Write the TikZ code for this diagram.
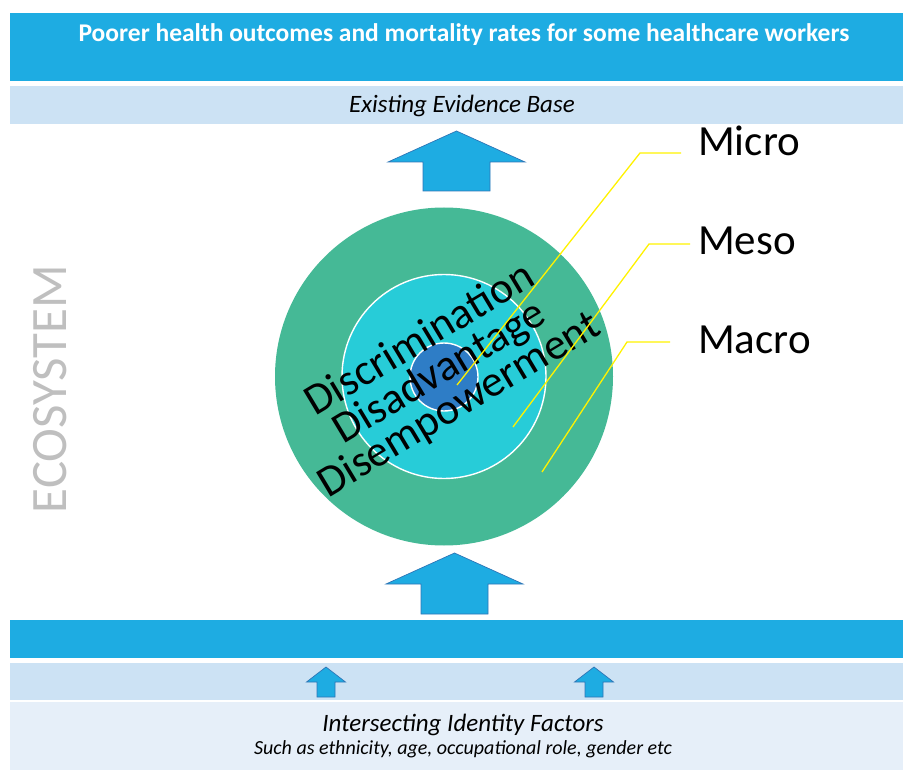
\documentclass[tikz,border=0pt]{standalone}
\usepackage{fontspec}
\setmainfont{Carlito}
\usetikzlibrary{positioning}
\definecolor{bandblue}{HTML}{1EACE2}
\definecolor{bandlight}{HTML}{CCE2F4}
\definecolor{bandpale}{HTML}{E6EFF9}
\definecolor{arrowedge}{HTML}{2E75B6}
\definecolor{macrogreen}{HTML}{45B996}
\definecolor{mesocyan}{HTML}{27CCD8}
\definecolor{microblue}{HTML}{2E7DC6}
\definecolor{ecogray}{HTML}{BFBFBF}
\tikzset{
    %Define style for the horizontal bands
    band/.style={
           rectangle,
           draw=none,
           inner sep=0pt,
           anchor=north west,
           minimum width=893pt},
    bandtext/.style={
           anchor=base,
           inner sep=0pt,
           font=\itshape\fontsize{25}{30}\selectfont},
    % Define style for the nested circles
    ring/.style={
           circle,
           inner sep=0pt,
           draw=white,
           line width=1.4pt},
    levellabel/.style={
           anchor=base west,
           inner sep=0pt,
           font=\fontsize{43}{50}\selectfont},
    % Define style for block arrows and leader lines
    blockarrow/.style={
           fill=bandblue,
           draw=arrowedge,
           line width=0.7pt,
           line join=miter},
    leader/.style={
           draw=yellow,
           line width=1.3pt},
}
\begin{document}
\begin{tikzpicture}[x=1pt,y=-1pt]
  \useasboundingbox (0,0) rectangle (903,770);
  % bands
  \node[band, fill=bandblue, minimum height=68pt] (outcomes) at (10,13) {};
  \node[band, fill=bandlight, minimum height=38pt] (evidence) at (10,86) {};
  \node[band, fill=bandblue, minimum height=38pt] (ecoband) at (10,620) {};
  \node[band, fill=bandlight, minimum height=37pt] (arrowband) at (10,663) {};
  \node[band, fill=bandpale, minimum height=68pt] (factors) at (10,702) {};
  \node[bandtext, font=\bfseries\fontsize{25.5}{30}\selectfont, text=white] (outtext) at (464,42)
      {Poorer health outcomes and mortality rates for some healthcare workers};
  \node[bandtext] (evtext) at (462,113) {Existing Evidence Base};
  \node[bandtext] (idtext) at (463,731) {Intersecting Identity Factors};
  \node[bandtext, font=\itshape\fontsize{20}{24}\selectfont] (suchtext) at (463,754)
      {Such as ethnicity, age, occupational role, gender etc};
  \node[rotate=90, text=ecogray, font=\fontsize{51}{60}\selectfont] (eco) at (50,389) {ECOSYSTEM};
  % circles
  \node[circle, fill=macrogreen, minimum size=338pt, inner sep=0pt] (macro) at (444,376.5) {};
  \node[ring, fill=mesocyan, minimum size=204pt] (meso) at (444,376.5) {};
  \node[ring, fill=microblue, minimum size=68pt] (micro) at (444,377) {};
  \node[rotate=31, align=center, inner sep=0pt, font=\fontsize{44}{38}\selectfont] (dtext) at (440,373)
      {Discrimination\\Disadvantage\\Disempowerment};
  % labels
  \node[levellabel] (microlbl) at (698,156) {Micro};
  \node[levellabel] (mesolbl) at (698,255) {Meso};
  \node[levellabel] (macrolbl) at (698,353) {Macro};
  \coordinate (micropt) at (457,385);  \coordinate (microknee) at (640,153); \coordinate (microend) at (681,153);
  \coordinate (mesopt) at (513,427);   \coordinate (mesoknee) at (649,244);  \coordinate (mesoend) at (690,244);
  \coordinate (macropt) at (542,472);  \coordinate (macroknee) at (627,342); \coordinate (macroend) at (670,342);
  \draw[leader] (micropt) -- (microknee) -- (microend);
  \draw[leader] (mesopt) -- (mesoknee) -- (mesoend);
  \draw[leader] (macropt) -- (macroknee) -- (macroend);
  % arrows
  \draw[blockarrow] (456.5,131) -- (525,162) -- (490,162) -- (490,191) -- (423,191) -- (423,162) -- (388,162) -- cycle;
  \draw[blockarrow] (454.5,553) -- (523,584) -- (488,584) -- (488,614) -- (421,614) -- (421,584) -- (386,584) -- cycle;
  \draw[blockarrow] (326,667) -- (345.5,682) -- (335,682) -- (335,697) -- (317,697) -- (317,682) -- (306.5,682) -- cycle;
  \draw[blockarrow] (594,667) -- (613.5,682) -- (603,682) -- (603,697) -- (585,697) -- (585,682) -- (574.5,682) -- cycle;
\end{tikzpicture}
\end{document}
